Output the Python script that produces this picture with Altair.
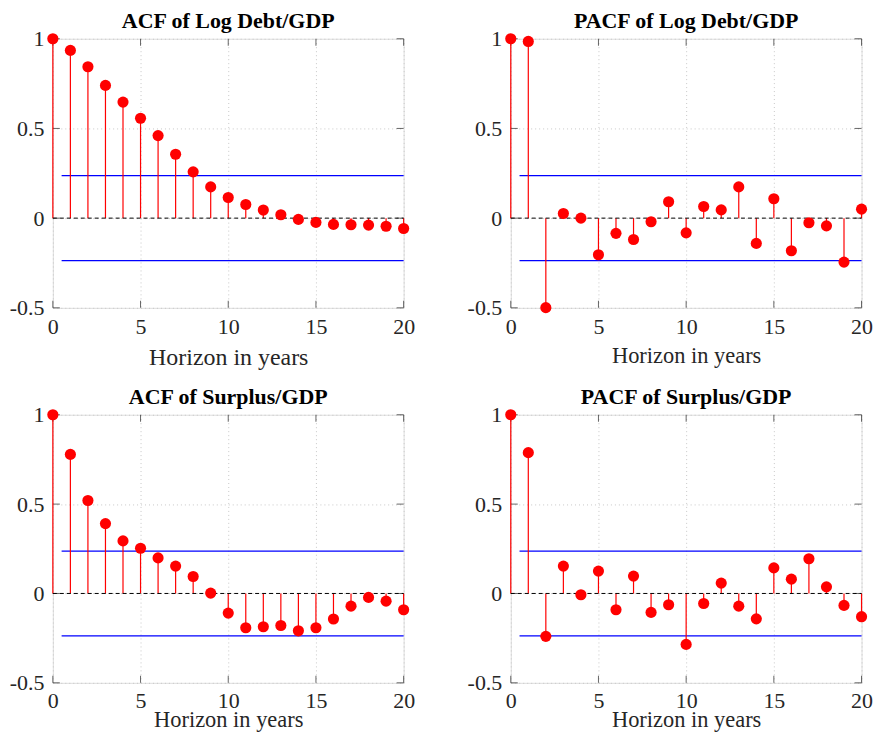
import altair as alt
import pandas as pd

lags = list(range(21))
acf_debt = [1.0, 0.935, 0.844, 0.740, 0.647, 0.557, 0.460, 0.356, 0.258, 0.174, 0.115,
            0.076, 0.045, 0.019, -0.007, -0.024, -0.035, -0.037, -0.039, -0.045, -0.058]
pacf_debt = [1.0, 0.985, -0.499, 0.026, 0.0, -0.204, -0.085, -0.119, -0.020, 0.091, -0.082,
             0.065, 0.046, 0.174, -0.141, 0.108, -0.182, -0.026, -0.043, -0.245, 0.050]
acf_surplus = [1.0, 0.778, 0.520, 0.391, 0.294, 0.253, 0.199, 0.153, 0.095, 0.002, -0.110,
               -0.192, -0.186, -0.179, -0.209, -0.192, -0.143, -0.071, -0.022, -0.043, -0.091]
pacf_surplus = [1.0, 0.788, -0.240, 0.153, -0.007, 0.125, -0.091, 0.097, -0.106, -0.063, -0.285,
                -0.056, 0.058, -0.071, -0.142, 0.143, 0.080, 0.194, 0.037, -0.067, -0.130]
conf_bound = 0.237
x_ticks = [0, 5, 10, 15, 20]
y_ticks = [-0.5, 0, 0.5, 1]
titles = ["ACF of Log Debt/GDP", "PACF of Log Debt/GDP", "ACF of Surplus/GDP", "PACF of Surplus/GDP"]
xlabel = "Horizon in years"

FONT = "Liberation Serif"
INK = "#262626"
W = 352


def panel(title, vals, h, xtitle_size, xtitle_pad, xlabel_pad):
    def xe():
        return alt.X("lag:Q", scale=alt.Scale(domain=[0, 20], nice=False, zero=False, padding=0),
                     axis=alt.Axis(values=x_ticks, grid=True, gridDash=[1, 3], gridColor="#c8c8c8",
                                   tickSize=0, domain=False, labelFontSize=22, labelPadding=xlabel_pad,
                                   labelColor=INK, labelFont=FONT, title=xlabel,
                                   titleFontSize=xtitle_size, titleFontWeight="normal",
                                   titleFont=FONT, titleColor=INK, titlePadding=xtitle_pad,
                                   labelFlush=False, format="d"))

    def ye():
        return alt.Y("val:Q", scale=alt.Scale(domain=[-0.5, 1], nice=False, zero=False, padding=0),
                     axis=alt.Axis(values=y_ticks, grid=True, gridDash=[1, 3], gridColor="#c8c8c8",
                                   tickSize=0, domain=False, labelFontSize=22, labelPadding=9,
                                   labelColor=INK, labelFont=FONT, title=None,
                                   labelExpr="datum.value < 0 ? '-' + format(-datum.value, '~g') : format(datum.value, '~g')",
                                   minExtent=44, maxExtent=44, labelFlush=False))

    df = pd.DataFrame({"lag": lags, "val": vals})
    zero_df = pd.DataFrame({"lag": [0], "lag2": [20], "val": [0.0]})
    bound_df = pd.DataFrame({"lag": [0.5, 0.5], "lag2": [20, 20], "val": [conf_bound, -conf_bound]})
    xt_df = pd.DataFrame({"lag": x_ticks})
    yt_df = pd.DataFrame({"val": y_ticks})

    stems = alt.Chart(df).mark_rule(color="#ff0000", strokeWidth=1.2).encode(
        x=xe(), y=ye(), y2=alt.datum(0))
    zero = alt.Chart(zero_df).mark_rule(color="black", strokeDash=[4, 3], strokeWidth=1).encode(
        x=xe(), x2="lag2:Q", y=ye())
    bounds = alt.Chart(bound_df).mark_rule(color="#0000ff", strokeWidth=1.3).encode(
        x=xe(), x2="lag2:Q", y=ye())
    pts = alt.Chart(df).mark_circle(color="#ff0000", size=125, opacity=1).encode(x=xe(), y=ye())
    tb = alt.Chart(xt_df).mark_tick(orient="vertical", size=7, yOffset=-3.5, color=INK, thickness=1).encode(
        x=xe(), y=alt.value(h))
    tt = alt.Chart(xt_df).mark_tick(orient="vertical", size=7, yOffset=3.5, color=INK, thickness=1).encode(
        x=xe(), y=alt.value(0))
    tl = alt.Chart(yt_df).mark_tick(orient="horizontal", size=7, xOffset=3.5, color=INK, thickness=1).encode(
        y=ye(), x=alt.value(0))
    tr = alt.Chart(yt_df).mark_tick(orient="horizontal", size=7, xOffset=-3.5, color=INK, thickness=1).encode(
        y=ye(), x=alt.value(W))

    return alt.layer(tb, tt, tl, tr, bounds, stems, zero, pts).properties(
        width=W, height=h,
        title=alt.TitleParams(title, fontSize=22, font=FONT, fontWeight="bold", color="black",
                              offset=-5.5, frame="group"))


top = alt.hconcat(panel(titles[0], acf_debt, 270, 24, 8, 9),
                  panel(titles[1], pacf_debt, 270, 22.5, 6.5, 9), spacing=50.5)
bottom = alt.hconcat(panel(titles[2], acf_surplus, 269, 22.5, -3, 8),
                     panel(titles[3], pacf_surplus, 269, 22.5, -3, 8), spacing=50.5)
chart = alt.vconcat(top, bottom, spacing=15.3).configure_view(
    stroke=INK, strokeWidth=1
).configure_axis(labelFont=FONT, titleFont=FONT).configure(font=FONT).properties(
    background="white", padding={"left": 0, "top": 0.6, "right": 0, "bottom": 0})

chart.save("out.html", embed_options={"renderer": "svg", "actions": False})
